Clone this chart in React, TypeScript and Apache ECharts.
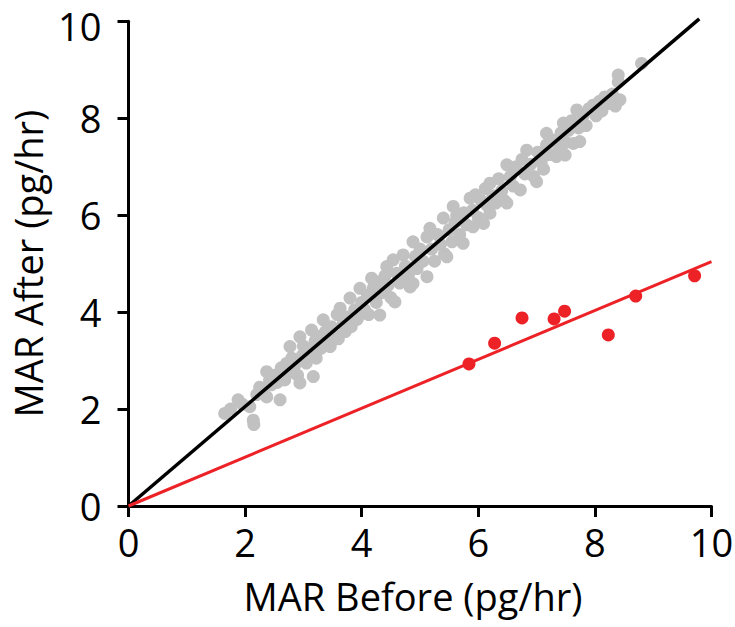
import React, { useEffect, useRef } from "react";
import * as echarts from "echarts";

const xTicks = [0, 2, 4, 6, 8, 10];
const yTicks = [0, 2, 4, 6, 8, 10];

const grayPoints: number[][] = [
  [1.65, 1.91], [1.75, 2.0], [1.88, 2.19], [1.95, 2.1], [2.08, 2.05], [2.14, 1.77], [2.15, 1.68],
  [2.2, 2.3], [2.25, 2.45], [2.3, 2.35], [2.37, 2.25], [2.37, 2.77], [2.42, 2.6], [2.45, 2.5],
  [2.5, 2.7], [2.55, 2.55], [2.6, 2.19], [2.62, 2.85], [2.68, 2.6], [2.71, 2.94], [2.75, 2.75],
  [2.77, 3.29], [2.8, 3.05], [2.85, 2.9], [2.9, 2.7], [2.94, 2.54], [2.94, 3.49], [2.98, 3.1],
  [3.0, 3.3], [3.05, 2.95], [3.1, 3.2], [3.14, 3.63], [3.17, 2.67], [3.2, 3.4], [3.22, 3.05],
  [3.28, 3.5], [3.3, 3.25], [3.34, 3.84], [3.38, 3.6], [3.4, 3.35], [3.46, 3.29], [3.48, 3.7],
  [3.52, 3.55], [3.58, 3.95], [3.6, 3.45], [3.63, 4.08], [3.68, 3.75], [3.72, 3.6], [3.75, 3.9],
  [3.8, 4.29], [3.82, 3.7], [3.88, 4.05], [3.92, 3.85], [3.97, 3.94], [3.97, 4.49], [4.0, 4.2],
  [4.05, 4.05], [4.1, 4.35], [4.12, 3.95], [4.17, 4.7], [4.2, 4.5], [4.25, 4.2], [4.28, 4.62],
  [4.31, 3.94], [4.35, 4.4], [4.4, 4.75], [4.43, 4.94], [4.45, 4.55], [4.5, 4.3],
  [4.54, 5.08], [4.57, 4.21], [4.6, 4.8], [4.65, 4.6], [4.71, 5.18], [4.75, 4.95], [4.8, 4.75],
  [4.83, 4.52], [4.88, 5.45], [4.88, 4.59], [4.92, 5.15], [4.95, 4.9], [5.0, 5.3], [5.05, 5.05],
  [5.12, 4.73], [5.12, 5.55], [5.17, 5.73], [5.2, 5.3], [5.25, 5.05], [5.3, 5.6], [5.35, 5.4],
  [5.4, 5.94], [5.42, 5.2], [5.46, 5.14], [5.5, 5.7],
  [5.55, 5.45], [5.57, 6.18], [5.6, 5.85], [5.63, 6.0], [5.68, 5.6], [5.74, 5.42], [5.75, 6.05],
  [5.8, 5.8], [5.86, 6.35], [5.9, 6.1], [5.91, 5.76], [5.95, 6.42], [6.0, 5.95], [6.05, 6.3],
  [6.09, 5.83], [6.12, 6.55], [6.15, 6.2], [6.2, 6.04], [6.2, 6.66], [6.25, 6.4], [6.3, 6.25],
  [6.35, 6.75], [6.4, 6.5], [6.45, 6.3], [6.49, 6.25], [6.49, 7.04],
  [6.55, 6.8], [6.6, 6.6], [6.65, 7.0], [6.72, 6.52], [6.75, 7.15], [6.8, 6.85], [6.83, 7.34],
  [6.9, 7.05], [6.95, 6.8], [7.0, 6.69], [7.02, 7.3], [7.08, 7.1], [7.12, 6.95], [7.17, 7.69],
  [7.17, 7.45], [7.22, 7.25], [7.3, 7.55], [7.34, 7.21], [7.38, 7.4], [7.42, 7.7], [7.46, 7.9],
  [7.49, 7.24], [7.5, 7.5],
  [7.55, 7.75], [7.6, 7.95], [7.63, 7.48], [7.69, 8.17], [7.72, 7.8], [7.74, 7.52], [7.8, 8.05],
  [7.85, 7.85], [7.9, 8.2], [7.97, 8.27], [8.02, 8.05], [8.08, 8.35], [8.12, 8.15], [8.17, 8.44],
  [8.22, 8.3], [8.3, 8.5], [8.35, 8.25], [8.4, 8.89], [8.4, 8.75], [8.43, 8.38], [8.8, 9.13],
];

const redPoints: number[][] = [
  [5.84, 2.93], [6.28, 3.36], [6.75, 3.88], [7.3, 3.86], [7.48, 4.02],
  [8.23, 3.53], [8.7, 4.33], [9.71, 4.75],
];

const blackLine: number[][] = [[0, 0], [9.79, 10.05]];
const redLine: number[][] = [[0, 0], [10, 5.04]];

const FONT = "'Open Sans', 'Noto Sans', sans-serif";

export default function App() {
  const ref = useRef<HTMLDivElement>(null);
  useEffect(() => {
    if (!ref.current) return;
    const chart = echarts.init(ref.current, undefined, { renderer: "svg" });
    chart.setOption({
      animation: false,
      backgroundColor: "#ffffff",
      grid: {
        left: 128.5, right: 23.5, top: 21.3, bottom: 121,
        containLabel: false, outerBoundsMode: "none",
      },
      xAxis: {
        type: "value",
        min: 0,
        max: 10,
        interval: 2,
        name: "MAR Before (pg/hr)",
        nameLocation: "middle",
        nameGap: 74,
        nameTextStyle: { fontFamily: FONT, fontSize: 38, color: "#000", lineHeight: 32, padding: [0, 14, 0, 0] },
        axisLine: { show: true, onZero: false, lineStyle: { color: "#000", width: 3 } },
        axisTick: { show: true, length: 11, lineStyle: { color: "#000", width: 3 } },
        axisLabel: {
          fontFamily: FONT, fontSize: 38, color: "#000", margin: 21, lineHeight: 30,
          formatter: (v: number) => (xTicks.includes(v) ? String(v) : ""),
        },
        splitLine: { show: false },
      },
      yAxis: {
        type: "value",
        min: 0,
        max: 10,
        interval: 2,
        name: "MAR After (pg/hr)",
        nameLocation: "middle",
        nameGap: 80,
        nameRotate: 90,
        nameTextStyle: { fontFamily: FONT, fontSize: 38, color: "#000" },
        axisLine: { show: true, onZero: false, lineStyle: { color: "#000", width: 3 } },
        axisTick: { show: true, length: 11, lineStyle: { color: "#000", width: 3 } },
        axisLabel: {
          fontFamily: FONT, fontSize: 38, color: "#000", margin: 27, lineHeight: 30,
          formatter: (v: number) =>
            yTicks.includes(v) ? (v === 10 ? "{t|" + v + "}" : String(v)) : "",
          rich: {
            t: { fontFamily: FONT, fontSize: 38, color: "#000", lineHeight: 30, padding: [10, 0, 0, 0] },
          },
        },
        splitLine: { show: false },
      },
      series: [
        {
          type: "scatter",
          data: grayPoints,
          symbolSize: 13,
          itemStyle: { color: "#c1c1c1", opacity: 1 },
          z: 2,
        },
        {
          type: "line",
          data: blackLine,
          showSymbol: false,
          symbol: "none",
          clip: false,
          lineStyle: { color: "#000", width: 3.5 },
          z: 3,
        },
        {
          type: "line",
          data: redLine,
          showSymbol: false,
          symbol: "none",
          clip: false,
          lineStyle: { color: "#ec2227", width: 3 },
          z: 3,
        },
        {
          type: "scatter",
          data: redPoints,
          symbolSize: 13,
          itemStyle: { color: "#ec2227", opacity: 1 },
          z: 4,
        },
      ],
    });
    return () => chart.dispose();
  }, []);
  return <div ref={ref} style={{ width: 735, height: 627, position: "absolute", left: 0, top: 0 }} />;
}
